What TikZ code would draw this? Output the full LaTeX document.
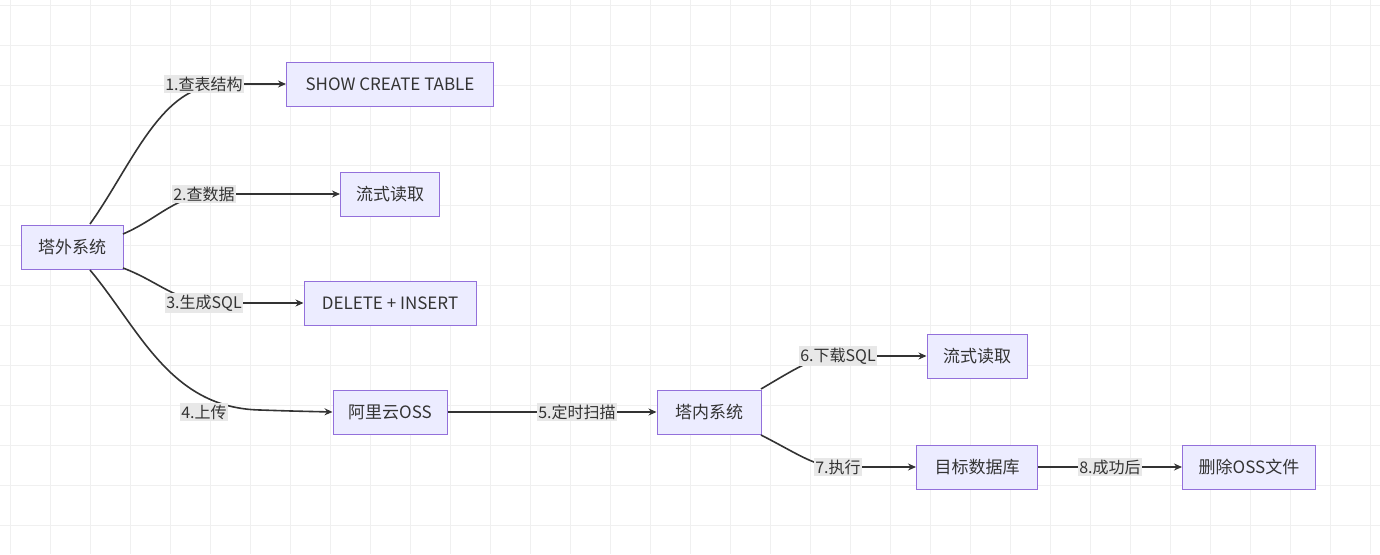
\documentclass[tikz,border=0pt]{standalone}
\usepackage{fontspec}
\setmainfont{Noto Sans CJK SC}
\usetikzlibrary{arrows.meta}
\definecolor{nfill}{HTML}{ECECFF}
\definecolor{nborder}{HTML}{9370DB}
\definecolor{lblbg}{HTML}{E8E8E8}
\definecolor{edge}{HTML}{333333}
\definecolor{gridc}{HTML}{F0F0F0}
\begin{document}
\begin{tikzpicture}[x=1pt,y=-1pt,
  box/.style={draw=nborder,fill=nfill,line width=1pt,minimum height=44pt,inner xsep=10pt,font=\fontsize{17}{20}\selectfont,text=edge},
  lbl/.style={fill=lblbg,inner sep=1.5pt,font=\fontsize{16}{19}\selectfont,text=edge},
  e/.style={draw=edge,line width=1.6pt},
  a/.style={e,-{Stealth[length=8pt,width=7pt]}}]
\useasboundingbox (0,0) rectangle (1380,554);
\fill[white] (0,0) rectangle (1380,554);
\foreach \x in {10,50,...,1370} \draw[gridc,line width=0.8pt] (\x,0) -- (\x,554);
\foreach \y in {5,45,...,554} \draw[gridc,line width=0.8pt] (0,\y) -- (1380,\y);
\node[box,minimum width=102pt] (out) at (72,247) {塔外系统};
\node[box,minimum width=207pt] (show) at (390,84) {SHOW CREATE TABLE};
\node[box,minimum width=99pt] (r1) at (390,194) {流式读取};
\node[box,minimum width=172pt] (di) at (390,303) {DELETE + INSERT};
\node[box,minimum width=114pt] (oss) at (390,412) {阿里云OSS};
\node[box,minimum width=104pt] (in) at (709,412) {塔内系统};
\node[box,minimum width=100pt] (r2) at (977,356) {流式读取};
\node[box,minimum width=121pt] (db) at (977,467) {目标数据库};
\node[box,minimum width=133pt] (del) at (1249,467) {删除OSS文件};
\coordinate (o1) at (90,224);
\coordinate (o2) at (123,234);
\coordinate (o3) at (123,268);
\coordinate (o4) at (90,270);
\coordinate (i6) at (761,389);
\coordinate (i7) at (761,435);
\draw[e] (o1) .. controls (130,168) and (160,88) .. (215,86);
\draw[e] (o2) .. controls (160,218) and (175,195) .. (215,194);
\draw[e] (o3) .. controls (160,282) and (175,302) .. (215,303);
\draw[e] (o4) .. controls (140,330) and (170,408) .. (260,410);
\draw[a] (215,84) -- (show.west);
\draw[a] (215,194) -- (r1.west);
\draw[a] (215,303) -- (di.west);
\draw[a] (260,410) .. controls (290,411) .. (oss.west);
\draw[a] (oss) -- (in);
\draw[e] (i6) .. controls (800,366) and (815,356) .. (840,356);
\draw[a] (840,356) -- (r2.west);
\draw[e] (i7) .. controls (800,455) and (815,467) .. (840,467);
\draw[a] (840,467) -- (db.west);
\draw[a] (db) -- (del);
\node[lblbg,lbl] (l1) at (204,84) {1.查表结构};
\node[lbl] (l2) at (204,194) {2.查数据};
\node[lbl] (l3) at (204,303) {3.生成SQL};
\node[lbl] (l4) at (204,412) {4.上传};
\node[lbl] (l5) at (577,412) {5.定时扫描};
\node[lbl] (l6) at (838,356) {6.下载SQL};
\node[lbl] (l7) at (838,467) {7.执行};
\node[lbl] (l8) at (1110,467) {8.成功后};
\end{tikzpicture}
\end{document}
